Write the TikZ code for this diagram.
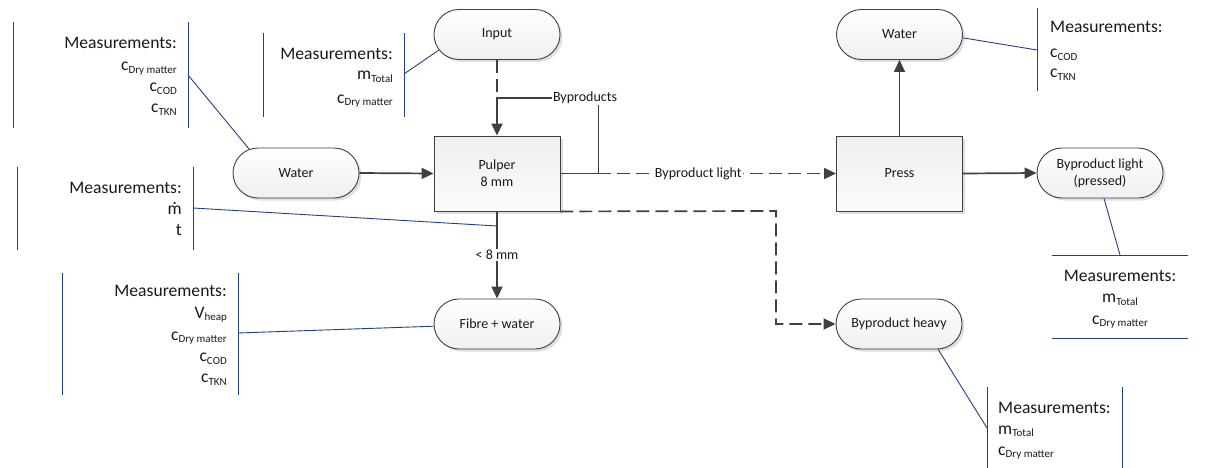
\documentclass[tikz,border=0pt]{standalone}
\usepackage{fontspec}
\setmainfont{Carlito}
\usetikzlibrary{arrows.meta,shapes.misc,shadows}
\definecolor{conn}{HTML}{404040}
\definecolor{annot}{HTML}{233F86}
\newcommand\sbx[1]{\raisebox{-2.5pt}{\fontsize{11}{11}\selectfont #1}}
\begin{document}
\begin{tikzpicture}[x=1pt,y=-1pt,
  every node/.style={font=\fontsize{14}{17}\selectfont, text=black!90},
  myshadow/.style={drop shadow={shadow xshift=2.5pt,shadow yshift=-2.5pt,fill=black!25,opacity=0.5}},
  procbox/.style={draw=conn, line width=0.9pt, rectangle, minimum width=126pt, minimum height=75pt,
    inner sep=0pt, align=center, top color=gray!13, bottom color=gray!3, myshadow},
  term/.style={draw=conn, line width=0.9pt, rounded rectangle, minimum width=126pt, minimum height=50pt,
    inner sep=0pt, align=center, top color=white, bottom color=gray!12, myshadow},
  flow/.style={draw=conn, line width=1.7pt, -{Triangle[length=12pt,width=11pt]}},
  dline/.style={draw=conn, line width=1.7pt, dash pattern=on 13pt off 6pt},
  dflow/.style={flow, dash pattern=on 13pt off 6pt},
  lbl/.style={fill=white, inner sep=1pt},
  annline/.style={draw=annot, line width=0.9pt},
  meas/.style={font=\fontsize{17.6}{20}\selectfont, inner sep=0pt},
]
\useasboundingbox (0,0) rectangle (1209,468);

% ---- process nodes ----
\node[term] (input) at (497,34.5) {Input};
\node[term] (waterL) at (296,173) {Water};
\node[procbox] (pulper) at (497,173.5) {Pulper\\8 mm};
\node[procbox] (press) at (899.5,173.5) {Press};
\node[term] (wtop) at (899.5,34.5) {Water};
\node[term] (bpl) at (1100,173) {Byproduct light\\(pressed)};
\node[term] (fibre) at (497,324) {Fibre + water};
\node[term] (heavy) at (899,324) {Byproduct heavy};

% ---- flows ----
\coordinate (bpjoin) at (497,98);
\coordinate (hk) at (776,211);
\coordinate (mdot) at (497,226);
\draw[dline] (input.south) -- (bpjoin);
\draw[dflow] (pulper.east) -- (press.west) node[lbl,pos=0.5] (bpllbl) {Byproduct light};
\draw[flow] (pulper.east) -- ++(38,0) |- (bpjoin) -- (pulper.north);
\node[lbl] (bplbl) at (585,98) {Byproducts};
\draw[flow] (waterL.east) -- (pulper.west);
\draw[flow] (press.north) -- (wtop.south);
\draw[flow] (press.east) -- (bpl.west);
\draw[dflow] (pulper.south east) -- (hk) |- (heavy.west);
\draw[flow] (pulper.south) -- (fibre.north) node[lbl,pos=0.5] (mmlbl) {< 8 mm};

% ---- annotation 1 (Water left) ----
\draw[annline] (13,22) -- (13,128);
\draw[annline] (188,22) -- (188,128);
\coordinate (a1) at (188,75);
\draw[annline] (a1) -- (waterL.153);
\node[meas,anchor=base east] (a1l1) at (177,48.5) {Measurements:};
\node[meas,anchor=base east] (a1l2) at (177,71) {c\sbx{Dry matter}};
\node[meas,anchor=base east] (a1l3) at (177,92) {c\sbx{COD}};
\node[meas,anchor=base east] (a1l4) at (177,113) {c\sbx{TKN}};

% ---- annotation 2 (Input) ----
\draw[annline] (263,33) -- (263,117);
\draw[annline] (404,33) -- (404,117);
\coordinate (a2) at (404,74);
\draw[annline] (a2) -- (input.195);
\node[meas,anchor=base east] (a2l1) at (393,60) {Measurements:};
\node[meas,anchor=base east] (a2l2) at (393,80) {m\sbx{Total}};
\node[meas,anchor=base east] (a2l3) at (393,103) {c\sbx{Dry matter}};

% ---- annotation 4 (Water top) ----
\draw[annline] (1037,8) -- (1037,91);
\coordinate (a4) at (1037,50);
\draw[annline] (wtop.-3) -- (a4);
\node[meas,anchor=base west] (a4l1) at (1050,33) {Measurements:};
\node[meas,anchor=base west] (a4l2) at (1050,58) {c\sbx{COD}};
\node[meas,anchor=base west] (a4l3) at (1050,78) {c\sbx{TKN}};

% ---- annotation 5 (Fibre + water) ----
\draw[annline] (62,273) -- (62,395);
\draw[annline] (238,273) -- (238,395);
\coordinate (a5) at (238,333);
\draw[annline] (a5) -- (fibre.182);
\node[meas,anchor=base east] (a5l1) at (227,296.7) {Measurements:};
\node[meas,anchor=base east] (a5l2) at (227,318) {V\sbx{heap}};
\node[meas,anchor=base east] (a5l3) at (227,340) {c\sbx{Dry matter}};
\node[meas,anchor=base east] (a5l4) at (227,361.7) {c\sbx{COD}};
\node[meas,anchor=base east] (a5l5) at (227,382.7) {c\sbx{TKN}};

% ---- annotation 6 (mass flow) ----
\draw[annline] (17,167) -- (17,250);
\draw[annline] (193,167) -- (193,250);
\coordinate (a6) at (193,208);
\draw[annline] (a6) -- (mdot);
\node[meas,anchor=base east] (a6l1) at (182,193) {Measurements:};
\node[meas,anchor=base east] (a6l2) at (182,214) {ṁ};
\node[meas,anchor=base east] (a6l3) at (182,235) {t};

% ---- annotation 7 (Byproduct light pressed) ----
\draw[annline] (1052,255) -- (1188,255);
\draw[annline] (1052,338) -- (1188,338);
\coordinate (a7) at (1120,255);
\draw[annline] (bpl.-81) -- (a7);
\node[meas,anchor=base] (a7l1) at (1120,281.7) {Measurements:};
\node[meas,anchor=base] (a7l2) at (1120,302.7) {m\sbx{Total}};
\node[meas,anchor=base] (a7l3) at (1120,324) {c\sbx{Dry matter}};

% ---- annotation 8 (Byproduct heavy) ----
\draw[annline] (987,387) -- (987,468);
\draw[annline] (1122,387) -- (1122,468);
\coordinate (a8) at (987,428);
\draw[annline] (heavy.-33) -- (a8);
\node[meas,anchor=base west] (a8l1) at (998,413) {Measurements:};
\node[meas,anchor=base west] (a8l2) at (998,434) {m\sbx{Total}};
\node[meas,anchor=base west] (a8l3) at (998,455) {c\sbx{Dry matter}};
\end{tikzpicture}
\end{document}
